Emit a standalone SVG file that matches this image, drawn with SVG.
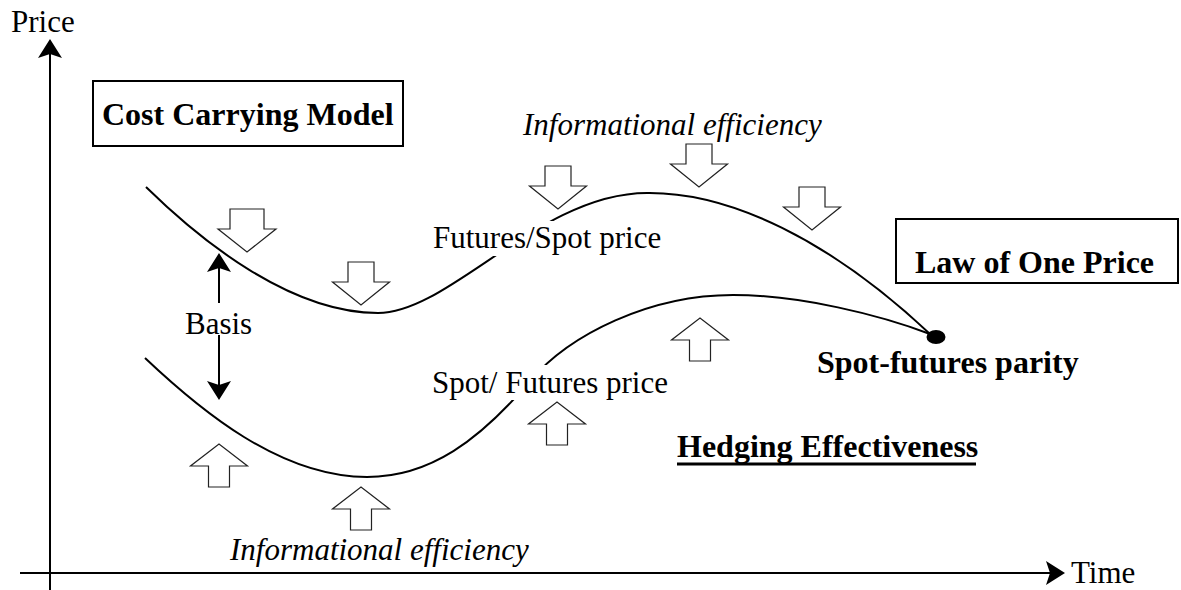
<svg xmlns="http://www.w3.org/2000/svg" width="1181" height="590" viewBox="0 0 1181 590">
  <style>
    .reg { font-family: "Liberation Serif", "Times New Roman", serif; font-size: 31px; fill: #000; }
    .bold { font-family: "Liberation Serif", "Times New Roman", serif; font-size: 32px; font-weight: bold; fill: #000; }
    .ital { font-family: "Liberation Serif", "Times New Roman", serif; font-size: 31px; font-style: italic; fill: #000; }
    .axis { stroke: #000; stroke-width: 2; fill: none; }
    .curve { stroke: #000; stroke-width: 2; fill: none; }
    .box { stroke: #000; stroke-width: 2; fill: #fff; }
    .block { stroke: #222; stroke-width: 1.2; fill: #fff; stroke-linejoin: miter; }
    .bg { fill: #fff; stroke: none; }
  </style>
  <defs>
    <!-- solid arrowhead, tip at the origin pointing up -->
    <path id="headUp" d="M0,0 L12,19 L0,15 L-12,19 Z" fill="#000"/>
    <!-- hollow block arrows, tip at the origin -->
    <path id="blockDown" d="M-13,-43 H13 V-23 H28.5 L0,0 L-28.5,-23 H-13 Z"/>
    <path id="blockDownWide" d="M-17,-43 H17 V-23 H29 L0,0 L-29,-23 H-17 Z"/>
    <path id="blockUp" d="M-10.5,43 H10.5 V22 H28.5 L0,0 L-28.5,22 H-10.5 Z"/>
  </defs>

  <!-- axes -->
  <g id="axes">
    <line class="axis" x1="50" y1="52" x2="50" y2="590"/>
    <use href="#headUp" x="50" y="39"/>
    <line class="axis" x1="20" y1="573" x2="1052" y2="573"/>
    <use href="#headUp" transform="translate(1065,573) rotate(90)"/>
    <text class="reg" x="11" y="32">Price</text>
    <text class="reg" x="1071" y="583">Time</text>
  </g>

  <!-- price curves -->
  <g id="connectors">
    <path id="futures-curve" class="curve" d="M146,187 C200,240 290,313 378,313 C450,313 540,193 647,193 C730,192 830,240 930,334"/>
    <path id="spot-curve" class="curve" d="M145,358 C200,410 280,477 367,477 C430,477 480,440 530,381 C570,334 650,295 733,295 C800,295 880,315 930,334"/>
    <!-- basis double arrow -->
    <line class="axis" x1="219" y1="266" x2="219" y2="303"/>
    <use href="#headUp" x="219" y="253"/>
    <line class="axis" x1="219" y1="335" x2="219" y2="387"/>
    <use href="#headUp" transform="translate(219,400) rotate(180)"/>
  </g>

  <g id="parity-point">
    <ellipse cx="936" cy="337" rx="9.5" ry="7" fill="#000"/>
    <text class="bold" x="817" y="373">Spot-futures parity</text>
  </g>

  <g id="futures-label">
    <rect class="bg" x="432" y="221" width="236" height="35"/>
    <text class="reg" x="433" y="248">Futures/Spot price</text>
  </g>

  <g id="spot-label">
    <rect class="bg" x="431" y="365" width="270" height="35"/>
    <text class="reg" x="432" y="393">Spot/ Futures price</text>
  </g>

  <g id="basis-label">
    <text class="reg" x="185" y="334">Basis</text>
  </g>

  <g id="cost-carrying-model">
    <rect class="box" x="93" y="81" width="310" height="65"/>
    <text class="bold" x="102" y="125">Cost Carrying Model</text>
  </g>

  <g id="law-of-one-price">
    <rect class="box" x="896" y="219" width="282" height="64"/>
    <text class="bold" x="915" y="273">Law of One Price</text>
  </g>

  <g id="hedging-effectiveness">
    <text class="bold" x="677" y="457">Hedging Effectiveness</text>
    <line x1="677" y1="464" x2="976" y2="464" stroke="#000" stroke-width="3"/>
  </g>

  <!-- informational efficiency pushing down on the futures curve -->
  <g id="info-efficiency-top">
    <text class="ital" x="523" y="135">Informational efficiency</text>
    <use class="block" href="#blockDownWide" x="247" y="252"/>
    <use class="block" href="#blockDown" x="361" y="305"/>
    <use class="block" href="#blockDown" x="558" y="209"/>
    <use class="block" href="#blockDown" x="699" y="187"/>
    <use class="block" href="#blockDown" x="812" y="230"/>
  </g>

  <!-- informational efficiency pushing up on the spot curve -->
  <g id="info-efficiency-bottom">
    <text class="ital" x="230" y="560">Informational efficiency</text>
    <use class="block" href="#blockUp" x="219" y="444"/>
    <use class="block" href="#blockUp" x="361" y="487"/>
    <use class="block" href="#blockUp" x="557" y="402"/>
    <use class="block" href="#blockUp" x="700" y="318"/>
  </g>
</svg>
